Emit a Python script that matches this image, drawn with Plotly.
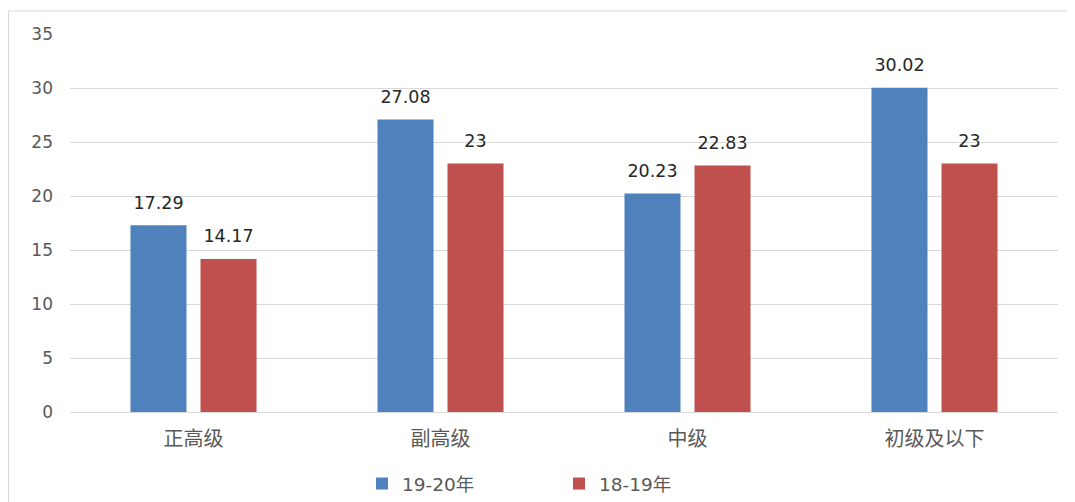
import plotly.graph_objects as go

categories = ["正高级", "副高级", "中级", "初级及以下"]
series_names = ["19-20年", "18-19年"]
values_1920 = [17.29, 27.08, 20.23, 30.02]
values_1819 = [14.17, 23, 22.83, 23]
label_1920 = ["17.29", "27.08", "20.23", "30.02"]
label_1819 = ["14.17", "23", "22.83", "23"]
y_ticks = [0, 5, 10, 15, 20, 25, 30, 35]

FONT = "DejaVu Sans, Noto Sans CJK SC"
colors = ["#4F81BD", "#C0504D"]

fig = go.Figure()
for name, vals, labs, col in [
    (series_names[0], values_1920, label_1920, colors[0]),
    (series_names[1], values_1819, label_1819, colors[1]),
]:
    fig.add_trace(go.Bar(
        x=categories, y=vals, name=name,
        marker=dict(color=col, line=dict(width=0)),
        text=["<span style='font-size:17.5px'>" + l + "</span><br> " for l in labs],
        textposition="outside",
        textfont=dict(family=FONT, size=9, color="#262626"),
        cliponaxis=False,
    ))

# page offset (body margin) of 8px
OFF = 8
L, T, R, B = 70 - OFF, 34 - OFF, 1058 - OFF, 412 - OFF
W, H = 1075, 502
fig.update_layout(
    width=W, height=H,
    margin=dict(l=L, r=W - R, t=T, b=H - B, autoexpand=False),
    paper_bgcolor="white", plot_bgcolor="white",
    barmode="group", bargap=0.433, bargroupgap=0.2,
    font=dict(family=FONT, color="#595959"),
    showlegend=True,
    legend=dict(
        orientation="h", x=(362 - OFF - L) / (R - L), xanchor="left",
        yref="container", y=(H - (484 - OFF)) / H, yanchor="middle",
        font=dict(family=FONT, size=18.5, color="#595959"),
        entrywidth=152, entrywidthmode="pixels",
    ),
    xaxis=dict(
        showgrid=False, zeroline=False, showline=False, ticks="",
        automargin=False,
        tickfont=dict(family="Noto Sans CJK SC", size=20, color="#595959"),
        ticklabelstandoff=13,
    ),
    yaxis=dict(
        range=[0, 35], tickvals=y_ticks, showgrid=True, gridcolor="#D9D9D9",
        gridwidth=1, zeroline=True, zerolinecolor="#D9D9D9", zerolinewidth=1,
        showline=False, ticks="", automargin=False,
        tickfont=dict(family=FONT, size=17, color="#595959"),
        ticklabelstandoff=16,
    ),
    shapes=[
        dict(type="line", xref="paper", yref="paper",
             x0=(8 - OFF - L) / (R - L), x1=(W - L) / (R - L),
             y0=(B - (11 - OFF)) / (B - T), y1=(B - (11 - OFF)) / (B - T),
             line=dict(color="#D9D9D9", width=1)),
        dict(type="line", xref="paper", yref="paper",
             x0=(8 - OFF + 0.5 - L) / (R - L), x1=(8 - OFF + 0.5 - L) / (R - L),
             y0=(B - (11 - OFF)) / (B - T), y1=(B - H) / (B - T),
             line=dict(color="#D9D9D9", width=1)),
    ],
)

fig.write_html("out.html")
